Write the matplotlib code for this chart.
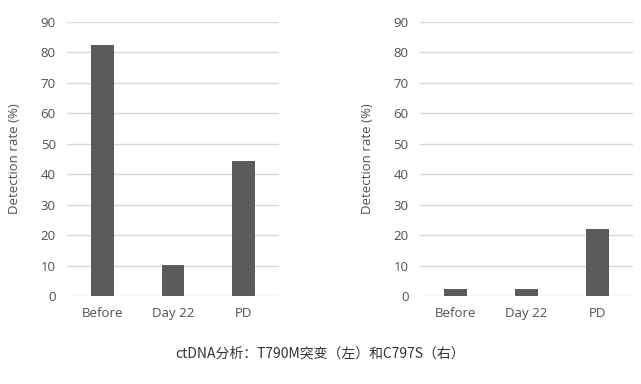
import matplotlib
matplotlib.use('Agg')
import matplotlib.pyplot as plt
import numpy as np

plt.rcParams['font.family'] = ['Noto Sans CJK SC', 'DejaVu Sans']

categories = ['Before', 'Day 22', 'PD']
t790m_rate = [82.5, 10.2, 44.2]
c797s_rate = [2.3, 2.3, 22.0]
y_ticks = list(range(0, 100, 10))
caption = 'ctDNA分析：T790M突变（左）和C797S（右）'

BAR = '#5b5b5b'
TXT = '#505050'
GRID = '#d9d9d9'
LATIN = ['Open Sans', 'DejaVu Sans']

fig = plt.figure(figsize=(6.41, 3.84), dpi=100)
fig.patch.set_facecolor('white')

boxes = [[0.1045, 0.229, 0.331, 0.714],
         [0.655, 0.229, 0.3325, 0.714]]

for box, vals in zip(boxes, [t790m_rate, c797s_rate]):
    ax = fig.add_axes(box)
    x = np.arange(len(categories))
    ax.bar(x, vals, width=0.32, color=BAR, zorder=3)
    ax.set_xlim(-0.5, len(categories) - 0.5)
    ax.set_ylim(0, 90)
    ax.set_yticks(y_ticks)
    ax.set_xticks(x)
    ax.set_xticklabels(categories)
    for lbl in ax.get_xticklabels() + ax.get_yticklabels():
        lbl.set_family(LATIN)
    ax.yaxis.grid(True, color=GRID, linewidth=1.0, zorder=0)
    ax.set_axisbelow(True)
    for side in ['top', 'right', 'left', 'bottom']:
        ax.spines[side].set_visible(False)
    ax.tick_params(axis='both', length=0, colors=TXT, labelsize=9.5)
    ax.tick_params(axis='y', pad=8)
    ax.tick_params(axis='x', pad=8)
    ax.set_ylabel('Detection rate (%)', color=TXT, fontsize=9.5,
                  labelpad=14, family=LATIN)

fig.text(0.5, 0.08, caption, ha='center', va='center',
         fontsize=10, color='#333333')

fig.savefig('out.png', dpi=100)
